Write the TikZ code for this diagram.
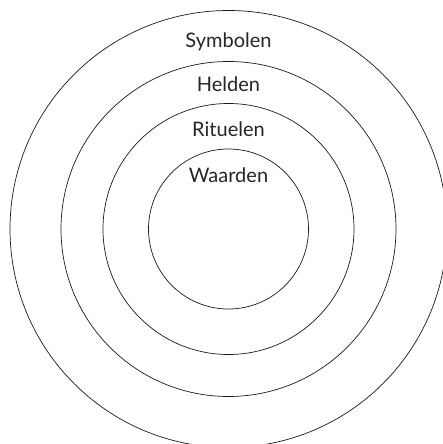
\documentclass[tikz,border=0pt]{standalone}
\usepackage{fontspec}
\setmainfont{Lato}

\begin{document}
\begin{tikzpicture}[
  x=1pt, y=1pt,
  ring/.style={draw=black!90, line width=0.7pt},
  layer/.style={anchor=base, inner sep=0pt, font=\fontsize{20}{24}\selectfont, text=black!85}
]
\useasboundingbox (0,0) rectangle (443,-444);
\clip (0,0) rectangle (443,-444);
\coordinate (mid) at (228.5,-229);

% rings, outside in
\draw[ring] (mid) circle[radius=218.5];
\draw[ring] (mid) circle[radius=167.5];
\draw[ring] (mid) circle[radius=125.5];
\draw[ring] (mid) circle[radius=80];

\node[layer] (symtext) at (228.5,-47.3) {Symbolen};
\node[layer] (heltext) at (228.5,-92) {Helden};
\node[layer] (ritext) at (228.5,-136.7) {Rituelen};
\node[layer] (waartext) at (228.5,-182.7) {Waarden};
\end{tikzpicture}
\end{document}
